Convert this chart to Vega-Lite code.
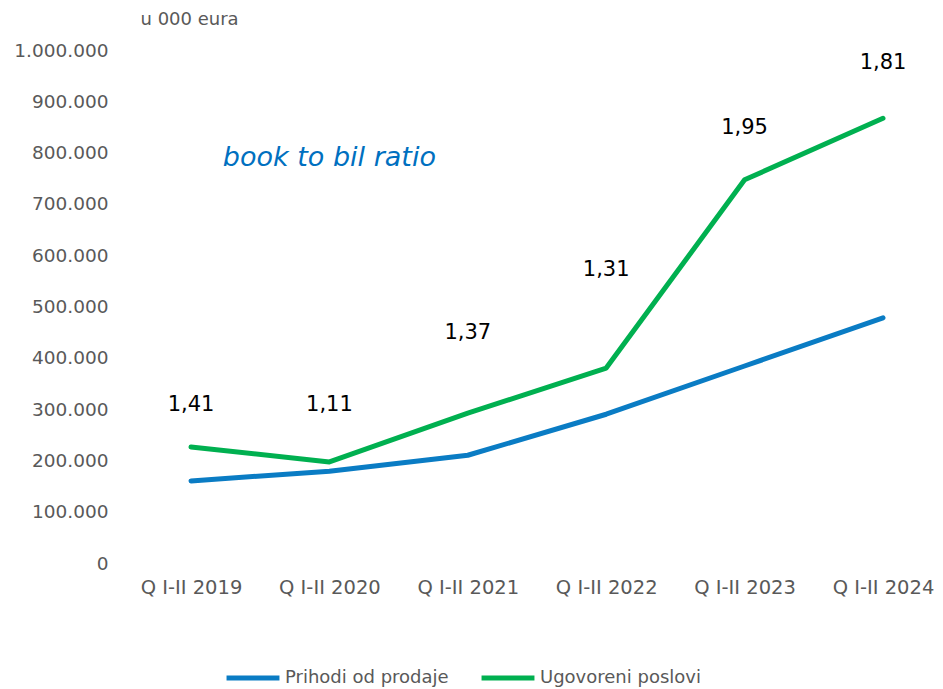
{
  "$schema": "https://vega.github.io/schema/vega-lite/v6.json",
  "width": 821,
  "height": 513,
  "autosize": "none",
  "padding": {"left": 122, "top": 50, "right": 0, "bottom": 126},
  "config": {
    "font": "DejaVu Sans",
    "view": {"stroke": null},
    "locale": {"number": {"decimal": ",", "thousands": ".", "grouping": [3], "currency": ["", " €"]}}
  },
  "datasets": {
    "lines": [
      {"period": "Q I-II 2019", "series": "Prihodi od prodaje", "value": 160000},
      {"period": "Q I-II 2020", "series": "Prihodi od prodaje", "value": 179000},
      {"period": "Q I-II 2021", "series": "Prihodi od prodaje", "value": 210000},
      {"period": "Q I-II 2022", "series": "Prihodi od prodaje", "value": 290000},
      {"period": "Q I-II 2023", "series": "Prihodi od prodaje", "value": 384000},
      {"period": "Q I-II 2024", "series": "Prihodi od prodaje", "value": 478000},
      {"period": "Q I-II 2019", "series": "Ugovoreni poslovi", "value": 226000},
      {"period": "Q I-II 2020", "series": "Ugovoreni poslovi", "value": 197000},
      {"period": "Q I-II 2021", "series": "Ugovoreni poslovi", "value": 292000},
      {"period": "Q I-II 2022", "series": "Ugovoreni poslovi", "value": 380000},
      {"period": "Q I-II 2023", "series": "Ugovoreni poslovi", "value": 747000},
      {"period": "Q I-II 2024", "series": "Ugovoreni poslovi", "value": 867000}
    ],
    "ratios": [
      {"period": "Q I-II 2019", "ratio": "1,41", "labelValue": 308000},
      {"period": "Q I-II 2020", "ratio": "1,11", "labelValue": 308000},
      {"period": "Q I-II 2021", "ratio": "1,37", "labelValue": 448000},
      {"period": "Q I-II 2022", "ratio": "1,31", "labelValue": 571000},
      {"period": "Q I-II 2023", "ratio": "1,95", "labelValue": 848000},
      {"period": "Q I-II 2024", "ratio": "1,81", "labelValue": 975000}
    ],
    "note": [
      {"period": "Q I-II 2020", "text": "book to bil ratio", "value": 789000}
    ]
  },
  "encoding": {
    "x": {
      "field": "period",
      "type": "ordinal",
      "scale": {"type": "point", "range": [69, 761], "padding": 0},
      "axis": {
        "title": null,
        "labelAngle": 0,
        "ticks": false,
        "domain": false,
        "grid": false,
        "labelFontSize": 19.5,
        "labelColor": "#595959",
        "labelPadding": 15
      }
    }
  },
  "layer": [
    {
      "data": {"name": "lines"},
      "mark": {"type": "line", "strokeWidth": 5, "strokeCap": "round", "strokeJoin": "round"},
      "encoding": {
        "y": {
          "field": "value",
          "type": "quantitative",
          "scale": {"domain": [0, 1000000]},
          "axis": {
            "title": "u 000 eura",
            "titleAngle": 0,
            "titleX": 18,
            "titleY": -31,
            "titleAlign": "left",
            "titleBaseline": "middle",
            "titleFontSize": 18,
            "titleFontWeight": "normal",
            "titleColor": "#595959",
            "values": [0, 100000, 200000, 300000, 400000, 500000, 600000, 700000, 800000, 900000, 1000000],
            "format": ",d",
            "ticks": false,
            "domain": false,
            "grid": false,
            "labelFontSize": 18.5,
            "labelColor": "#595959",
            "labelPadding": 14
          }
        },
        "color": {
          "field": "series",
          "type": "nominal",
          "scale": {"domain": ["Prihodi od prodaje", "Ugovoreni poslovi"], "range": ["#0A7CC4", "#00B050"]},
          "legend": {
            "title": null,
            "orient": "none",
            "direction": "horizontal",
            "legendX": 102,
            "legendY": 599,
            "symbolType": "stroke",
            "symbolSize": 2800,
            "symbolStrokeWidth": 5,
            "labelFontSize": 18,
            "labelLimit": 0,
            "labelColor": "#595959",
            "labelOffset": 3,
            "columnPadding": 22
          }
        }
      }
    },
    {
      "data": {"name": "ratios"},
      "mark": {"type": "text", "fontSize": 21, "color": "#000000", "baseline": "middle", "align": "center"},
      "encoding": {
        "y": {"field": "labelValue", "type": "quantitative"},
        "text": {"field": "ratio"}
      }
    },
    {
      "data": {"name": "note"},
      "mark": {"type": "text", "fontSize": 27, "fontStyle": "italic", "color": "#0070C0", "baseline": "middle", "align": "center"},
      "encoding": {
        "y": {"field": "value", "type": "quantitative"},
        "text": {"field": "text"}
      }
    }
  ]
}
